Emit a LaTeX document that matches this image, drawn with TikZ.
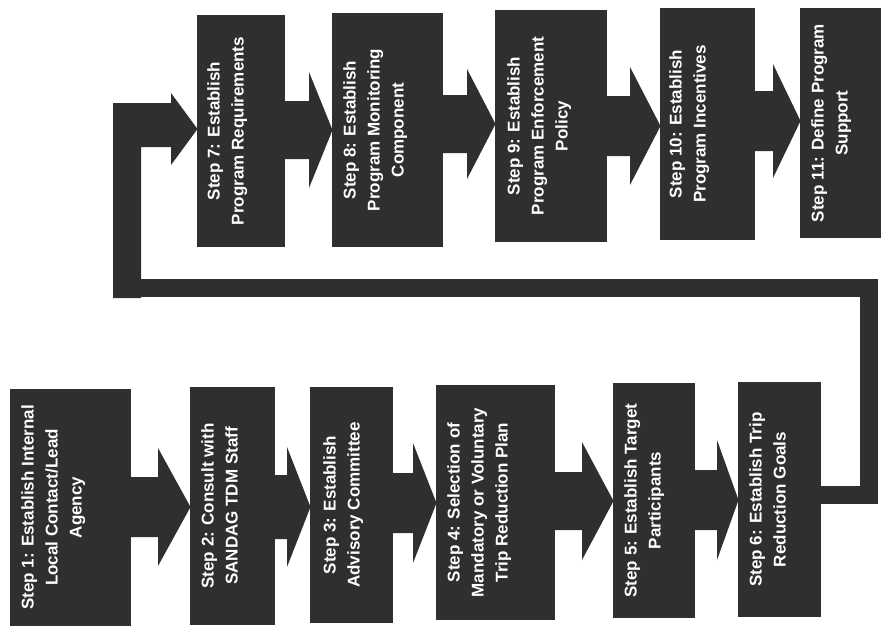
\documentclass[tikz,border=0pt]{standalone}
\usepackage{fontspec}
\setmainfont{Liberation Sans}
\usetikzlibrary{calc}
\definecolor{boxgray}{HTML}{2F2F2F}
\tikzset{
  stepbox/.style={fill=boxgray, draw=none, inner sep=0pt, outer sep=0pt},
  steptext/.style={rotate=90, anchor=north, align=center, text=white, inner sep=0pt,
    font=\bfseries\fontsize{17}{24}\selectfont},
  arrowfill/.style={fill=boxgray},
  loopline/.style={draw=boxgray, line width=18pt, line join=miter},
}
% #1 from node, #2 to node, #3 y centre (image px), #4 shaft half, #5 head half, #6 head length
\newcommand\blockarrow[6]{%
  \fill[arrowfill] let \p1=(#1.east), \p2=(#2.west) in
    (\x1-1pt,-#3pt+#4pt) -- (\x2-#6pt,-#3pt+#4pt) -- (\x2-#6pt,-#3pt+#5pt)
    -- (\x2+0.5pt,-#3pt) -- (\x2-#6pt,-#3pt-#5pt) -- (\x2-#6pt,-#3pt-#4pt)
    -- (\x1-1pt,-#3pt-#4pt) -- cycle;}
\begin{document}
\begin{tikzpicture}[x=1pt,y=-1pt]
\useasboundingbox (0,0) rectangle (882,634);
% boxes
\node[stepbox, minimum width=121pt, minimum height=237pt] (b1) at (70.5,507.5) {};
\node[stepbox, minimum width=85pt,  minimum height=238pt] (b2) at (232.5,506) {};
\node[stepbox, minimum width=83pt,  minimum height=236pt] (b3) at (351.5,505) {};
\node[stepbox, minimum width=119pt, minimum height=235pt] (b4) at (495.5,502.5) {};
\node[stepbox, minimum width=82pt,  minimum height=235pt] (b5) at (654,500.5) {};
\node[stepbox, minimum width=83pt,  minimum height=235pt] (b6) at (779.5,499.5) {};
\node[stepbox, minimum width=88pt,  minimum height=232pt] (b7) at (241,131) {};
\node[stepbox, minimum width=111pt, minimum height=234pt] (b8) at (387.5,130) {};
\node[stepbox, minimum width=112pt, minimum height=232pt] (b9) at (551,126) {};
\node[stepbox, minimum width=95pt,  minimum height=232pt] (b10) at (707.5,124) {};
\node[stepbox, minimum width=81pt,  minimum height=230pt] (b11) at (840.5,123) {};
% arrows
\blockarrow{b1}{b2}{507}{30}{59}{32}
\blockarrow{b2}{b3}{507}{32}{60}{23}
\blockarrow{b3}{b4}{503}{30}{60}{23}
\blockarrow{b4}{b5}{501}{29}{59}{31}
\blockarrow{b5}{b6}{500}{30}{60}{21}
\blockarrow{b7}{b8}{130}{29}{58}{23}
\blockarrow{b8}{b9}{124}{29}{55}{28}
\blockarrow{b9}{b10}{126}{30}{59}{30}
\blockarrow{b10}{b11}{121}{30}{57}{27}
% loop back from step 6 to step 7
\coordinate (lr) at (869,288);
\coordinate (ll) at (127,288);
\draw[loopline] ([yshift=5pt]b6.east) -| (lr) -- (ll);
\fill[arrowfill] let \p1=(b7.west) in
  (113,298) -- (113,103) -- (\x1-26pt,-103pt) -- (\x1-26pt,-93pt)
  -- (\x1+0.5pt,-129pt) -- (\x1-26pt,-165pt) -- (\x1-26pt,-147pt)
  -- (141,147) -- (141,298) -- cycle;
% texts
\node[steptext] (t1) at ([xshift=11pt]b1.west) {Step 1: Establish Internal\\Local Contact/Lead\\Agency};
\node[steptext] (t2) at ([xshift=11pt]b2.west) {Step 2: Consult with\\SANDAG TDM Staff};
\node[steptext] (t3) at ([xshift=13pt]b3.west) {Step 3: Establish\\Advisory Committee};
\node[steptext] (t4) at ([xshift=11pt]b4.west) {Step 4: Selection of\\Mandatory or Voluntary\\Trip Reduction Plan};
\node[steptext] (t5) at ([xshift=11pt]b5.west) {Step 5: Establish Target\\Participants};
\node[steptext] (t6) at ([xshift=11pt]b6.west) {Step 6: Establish Trip\\Reduction Goals};
\node[steptext] (t7) at ([xshift=10pt]b7.west) {Step 7: Establish\\Program Requirements};
\node[steptext] (t8) at ([xshift=11pt]b8.west) {Step 8: Establish\\Program Monitoring\\Component};
\node[steptext] (t9) at ([xshift=12pt]b9.west) {Step 9: Establish\\Program Enforcement\\Policy};
\node[steptext] (t10) at ([xshift=9pt]b10.west) {Step 10: Establish\\Program Incentives};
\node[steptext] (t11) at ([xshift=11pt]b11.west) {Step 11: Define Program\\Support};
\end{tikzpicture}
\end{document}
